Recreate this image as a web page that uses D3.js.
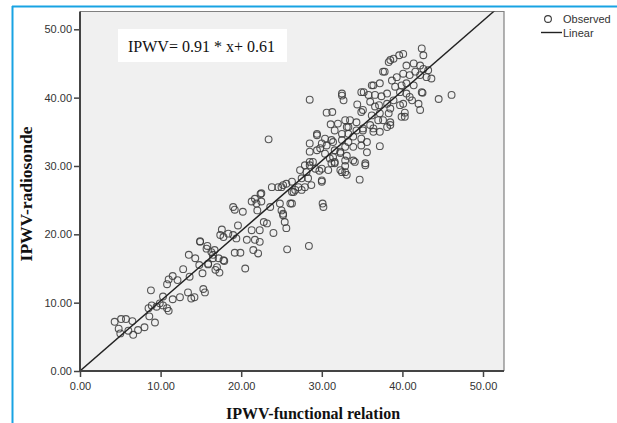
<!DOCTYPE html>
<html><head><meta charset="utf-8">
<script src="https://cdn.jsdelivr.net/npm/d3@7"></script>
<style>body{margin:0;background:#fff;}svg{display:block;}</style>
</head><body>
<svg id="c" width="617" height="423"></svg>
<script>
const xTicks = [0, 10, 20, 30, 40, 50];
const yTicks = [0, 10, 20, 30, 40, 50];
const xTitle = "IPWV-functional relation";
const yTitle = "IPWV-radiosonde";
const equation = "IPWV= 0.91 * x+ 0.61";
const legendLabels = ["Observed", "Linear"];
const fitLine = [[0, 0], [60, 61.5]];
const obsX = [4.3,5.1,5.7,6.5,4.8,5.0,6.0,6.6,7.2,8.0,9.3,8.8,8.5,8.9,9.5,9.9,10.3,10.8,11.0,10.3,8.6,10.8,11.0,11.5,12.1,12.8,13.6,11.5,12.4,13.4,13.8,14.2,15.3,15.5,13.5,14.3,14.8,15.2,15.9,16.5,16.7,17.2,17.3,16.8,17.9,15.8,14.9,
14.9,15.7,16.3,16.5,15.9,17.0,17.8,17.6,17.4,17.8,18.4,19.0,19.4,19.6,19.0,19.2,20.2,20.7,21.3,21.7,22.3,19.2,19.9,21.5,22.1,20.5,21.3,21.9,22.4,22.5,22.0,22.8,23.2,22.3,24.0,23.6,23.8,24.6,25.2,25.6,26.3,24.8,25.0,25.2,25.4,25.6,26.1,25.7,27.1,
23.4,28.5,30.6,31.3,31.1,32.5,32.7,32.9,32.0,29.4,28.5,28.5,30.4,31.2,30.0,29.4,30.4,31.0,31.6,32.3,32.9,32.5,33.3,32.9,32.3,32.9,33.3,27.9,28.5,27.3,28.1,29.2,30.0,30.8,30.0,27.5,28.3,28.7,27.9,26.3,26.7,25.0,27.5,22.5,21.7,
32.5,34.9,35.8,36.2,37.2,36.6,37.6,38.3,34.9,36.0,36.6,37.2,38.1,38.5,38.9,39.7,40.5,40.1,40.9,42.0,42.4,42.2,40.3,39.7,37.6,36.0,36.4,38.1,38.5,37.0,33.5,34.3,33.1,31.6,34.3,35.1,34.9,33.9,33.3,32.5,29.4,29.8,30.6,31.4,31.6,33.9,34.9,35.6,37.2,28.9,31.4,34.1,35.4,32.9,33.1,35.6,
42.4,42.6,40.1,39.6,38.9,38.5,40.5,41.4,42.2,42.6,43.2,43.6,43.0,42.2,41.6,40.9,40.1,39.3,38.7,37.8,39.1,39.9,40.5,41.4,42.5,44.5,46.1,41.2,38.1,36.4,35.2,37.4,36.2,35.1,38.3,40.3,39.9,37.2,38.5,36.4,35.1,37.1,34.4,
28.4,30.1,30.2,34.7,35.4,33.1,32.5,31.6,33.9,30.0,26.3,25.2,26.5,28.5,31.2,32.3,29.7];
const obsY = [7.2,7.6,7.6,7.3,6.2,5.5,5.9,5.3,6.0,6.4,7.1,11.8,9.2,9.6,9.4,9.9,9.6,9.2,8.8,10.9,8.0,12.7,13.4,13.9,13.3,14.9,13.8,10.5,10.8,11.5,10.6,10.8,12.0,11.5,17.0,16.5,15.5,14.3,15.6,17.0,17.7,16.5,14.4,14.8,16.1,18.3,18.9,
19.0,17.9,17.4,16.5,15.7,15.2,16.2,20.7,19.9,19.6,20.1,19.9,19.4,21.3,24.0,23.6,23.3,19.2,20.6,19.2,18.9,17.3,17.3,17.7,17.2,15.0,24.8,24.5,25.9,24.8,23.5,21.8,21.6,20.6,20.2,24.0,26.9,26.9,27.2,27.4,26.2,24.5,23.5,22.8,21.8,20.9,24.5,17.8,26.9,
33.9,39.7,37.8,37.9,36.1,40.3,39.6,36.7,36.2,34.7,33.3,32.1,34.0,33.8,33.3,32.3,31.8,31.1,30.4,32.1,32.8,34.7,34.7,30.8,29.4,29.1,35.7,30.1,30.6,29.4,29.1,29.6,29.6,29.4,27.9,28.2,28.2,27.2,26.9,27.7,26.5,26.9,26.5,26.0,25.2,
40.6,40.8,40.4,41.8,42.1,40.4,43.8,45.2,37.9,39.4,38.7,37.7,39.1,38.4,39.6,40.8,40.6,39.1,40.1,39.1,40.8,38.2,37.2,38.9,36.7,36.0,35.5,35.7,36.4,36.7,36.7,36.4,35.7,35.2,35.2,35.2,34.0,34.3,33.5,33.8,34.5,32.6,33.0,33.5,32.3,32.8,33.0,33.5,32.9,30.6,31.3,30.6,30.4,30.0,31.5,32.0,
47.2,46.2,46.4,46.2,45.7,45.5,44.7,45.0,44.7,44.2,44.0,42.8,43.0,43.3,43.8,43.3,43.5,43.0,42.5,43.8,41.6,41.8,42.1,41.8,40.7,39.8,40.4,39.6,40.6,41.8,40.8,40.2,37.4,38.2,37.7,37.8,37.2,35.0,36.0,35.0,35.5,38.9,39.0,
18.3,24.5,24.0,28.0,30.1,28.7,29.1,30.6,30.8,27.7,24.5,23.0,26.2,30.1,30.4,31.9,29.3];

const svg = d3.select("#c");
const L = 80, R = 504, T = 11.5, B = 371;
const x = d3.scaleLinear().domain([0, 50]).range([L, 483]);
const y = d3.scaleLinear().domain([0, 50]).range([B, 29.3]);

// outer blue frame
svg.append("line").attr("x1", 12).attr("x2", 617).attr("y1", 6.5).attr("y2", 6.5).attr("stroke", "#19a3e3").attr("stroke-width", 2);
svg.append("line").attr("x1", 12.5).attr("x2", 12.5).attr("y1", 6).attr("y2", 423).attr("stroke", "#19a3e3").attr("stroke-width", 2);

// plot background
svg.append("rect").attr("x", L).attr("y", T).attr("width", R - L).attr("height", B - T).attr("fill", "#f0f0f0");
svg.append("path").attr("d", `M${L},${T}H${R}V${B}`).attr("fill", "none").attr("stroke", "#808080").attr("stroke-width", 1.2);

const clip = svg.append("defs").append("clipPath").attr("id", "pc");
clip.append("rect").attr("x", L).attr("y", T).attr("width", R - L).attr("height", B - T);

// points
svg.append("g").selectAll("circle").data(obsX.map((v, i) => [v, obsY[i]])).join("circle")
  .attr("cx", d => x(d[0])).attr("cy", d => y(d[1])).attr("r", 3.4)
  .attr("fill", "none").attr("stroke", "#3a3a3a").attr("stroke-width", 1.1).attr("stroke-opacity", 0.85);

// fit line
svg.append("path").attr("clip-path", "url(#pc)")
  .attr("d", d3.line().x(d => x(d[0])).y(d => y(d[1]))(fitLine))
  .attr("fill", "none").attr("stroke", "#222").attr("stroke-width", 1.4);

// axes
const ax = svg.append("g").attr("transform", `translate(0,${B})`)
  .call(d3.axisBottom(x).tickValues(xTicks).tickFormat(d3.format(".2f")).tickSize(6).tickPadding(5));
const ay = svg.append("g").attr("transform", `translate(${L},0)`)
  .call(d3.axisLeft(y).tickValues(yTicks).tickFormat(d3.format(".2f")).tickSize(6).tickPadding(2));
[ax, ay].forEach(g => {
  g.select(".domain").remove();
  g.selectAll(".tick line").attr("stroke", "#444").attr("stroke-width", 1.5);
  g.selectAll(".tick text").attr("fill", "#333").style("font-family", "Liberation Sans, Arial, sans-serif").style("font-size", "11px");
});
svg.append("line").attr("x1", L).attr("x2", L).attr("y1", T).attr("y2", B + 1).attr("stroke", "#444").attr("stroke-width", 2);
svg.append("line").attr("x1", L - 1).attr("x2", R).attr("y1", B).attr("y2", B).attr("stroke", "#444").attr("stroke-width", 2);

// titles
svg.append("text").attr("x", 313).attr("y", 419).attr("text-anchor", "middle")
  .style("font-family", "Liberation Serif, Times New Roman, serif").style("font-weight", "bold").style("font-size", "16px")
  .attr("fill", "#111").text(xTitle);
svg.append("text").attr("transform", "translate(32,194) rotate(-90)").attr("text-anchor", "middle")
  .style("font-family", "Liberation Serif, Times New Roman, serif").style("font-weight", "bold").style("font-size", "17.5px")
  .attr("fill", "#111").text(yTitle);

// equation box
svg.append("rect").attr("x", 118).attr("y", 29).attr("width", 169).attr("height", 33).attr("fill", "#fff");
svg.append("text").attr("x", 128).attr("y", 52)
  .style("font-family", "Liberation Serif, Times New Roman, serif").style("font-size", "16px")
  .attr("fill", "#111").text(equation);

// legend
svg.append("circle").attr("cx", 548).attr("cy", 19).attr("r", 3.4).attr("fill", "none").attr("stroke", "#3a3a3a").attr("stroke-width", 1.1);
svg.append("line").attr("x1", 541).attr("x2", 562).attr("y1", 32.5).attr("y2", 32.5).attr("stroke", "#222").attr("stroke-width", 1.4);
svg.selectAll(".lg").data(legendLabels).join("text").attr("class", "lg")
  .attr("x", 563).attr("y", (d, i) => 23 + i * 13.5)
  .style("font-family", "Liberation Sans, Arial, sans-serif").style("font-size", "11px").attr("fill", "#333")
  .text(d => d);
</script>
</body></html>
